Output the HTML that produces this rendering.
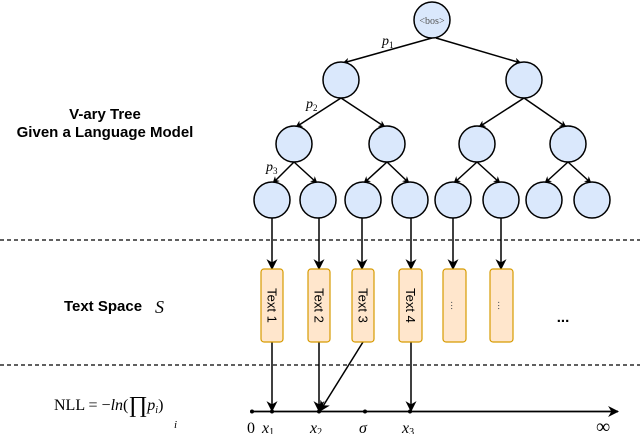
<!DOCTYPE html>
<html><head><meta charset="utf-8"><style>html,body{margin:0;padding:0;background:#fff}svg{display:block}</style></head>
<body>
<svg width="640" height="434" viewBox="0 0 640 434" xmlns="http://www.w3.org/2000/svg">
<defs>
<marker id="a" viewBox="0 0 10 10" refX="9" refY="5" markerWidth="7" markerHeight="7" orient="auto-start-reverse" markerUnits="userSpaceOnUse"><path d="M0,0 L10,5 L0,10 L3,5 z" fill="#000"/></marker>
<marker id="b" viewBox="0 0 10 10" refX="9" refY="5" markerWidth="11" markerHeight="11" orient="auto" markerUnits="userSpaceOnUse"><path d="M0,0 L10,5 L0,10 L3,5 z" fill="#000"/></marker>
</defs>
<g stroke="#000" stroke-width="1.5" fill="none" marker-end="url(#a)">
<line x1="432" y1="38" x2="343" y2="63"/>
<line x1="436" y1="38" x2="521" y2="63"/>
<line x1="341" y1="98" x2="296" y2="127"/>
<line x1="341" y1="98" x2="385" y2="127"/>
<line x1="524" y1="98" x2="479" y2="127"/>
<line x1="524" y1="98" x2="566" y2="127"/>
<line x1="294" y1="162" x2="273" y2="183"/>
<line x1="294" y1="162" x2="317" y2="183"/>
<line x1="387" y1="162" x2="364" y2="183"/>
<line x1="387" y1="162" x2="409" y2="183"/>
<line x1="477" y1="162" x2="454" y2="183"/>
<line x1="477" y1="162" x2="500" y2="183"/>
<line x1="568" y1="162" x2="545" y2="183"/>
<line x1="568" y1="162" x2="591" y2="183"/>
</g>
<g stroke="#000" stroke-width="1.5" fill="none" marker-end="url(#b)">
<line x1="272" y1="218" x2="272" y2="269"/>
<line x1="319" y1="218" x2="319" y2="269"/>
<line x1="362" y1="218" x2="362" y2="269"/>
<line x1="411" y1="218" x2="411" y2="269"/>
<line x1="453" y1="218" x2="453" y2="269"/>
<line x1="501" y1="218" x2="501" y2="269"/>
<line x1="272" y1="342" x2="272" y2="411"/>
<line x1="319" y1="342" x2="319" y2="411"/>
<line x1="363" y1="342" x2="320" y2="411"/>
<line x1="411" y1="342" x2="411" y2="411"/>
<line x1="252" y1="411.5" x2="618" y2="411.5" stroke-width="1.8"/>
</g>
<g fill="#dae8fc" stroke="#000" stroke-width="1.5">
<circle cx="432" cy="20" r="18"/>
<circle cx="341" cy="80" r="18"/><circle cx="524" cy="80" r="18"/>
<circle cx="294" cy="144" r="18"/><circle cx="387" cy="144" r="18"/><circle cx="477" cy="144" r="18"/><circle cx="568" cy="144" r="18"/>
<circle cx="272" cy="200" r="18"/><circle cx="318" cy="200" r="18"/><circle cx="363" cy="200" r="18"/><circle cx="410" cy="200" r="18"/><circle cx="453" cy="200" r="18"/><circle cx="501" cy="200" r="18"/><circle cx="544" cy="200" r="18"/><circle cx="592" cy="200" r="18"/>
</g>
<text x="432" y="24" font-family="Liberation Serif, serif" font-size="10" fill="#555" text-anchor="middle">&lt;bos&gt;</text>
<g font-family="Liberation Serif, serif" font-style="italic" font-size="14">
<text x="382" y="45">p<tspan font-size="9" dy="3" font-style="normal">1</tspan></text>
<text x="306" y="108">p<tspan font-size="9" dy="3" font-style="normal">2</tspan></text>
<text x="266" y="171">p<tspan font-size="9" dy="3" font-style="normal">3</tspan></text>
</g>
<g stroke="#000" stroke-width="1.2" stroke-dasharray="4,3">
<line x1="0" y1="240" x2="640" y2="240"/>
<line x1="0" y1="365" x2="640" y2="365"/>
</g>
<g fill="#ffe6cc" stroke="#d79b00" stroke-width="1.2">
<rect x="261" y="269" width="22" height="73" rx="3"/>
<rect x="308" y="269" width="22" height="73" rx="3"/>
<rect x="352" y="269" width="22" height="73" rx="3"/>
<rect x="399" y="269" width="23" height="73" rx="3"/>
<rect x="443" y="269" width="23" height="73" rx="3"/>
<rect x="490" y="269" width="23" height="73" rx="3"/>
</g>
<g font-family="Liberation Sans, sans-serif" font-size="13" fill="#000" text-anchor="middle">
<text transform="translate(267.5,305.5) rotate(90)">Text 1</text>
<text transform="translate(314.5,305.5) rotate(90)">Text 2</text>
<text transform="translate(358.5,305.5) rotate(90)">Text 3</text>
<text transform="translate(406,305.5) rotate(90)">Text 4</text>
<text transform="translate(451,305.5) rotate(90)" fill="#666" font-size="11">...</text>
<text transform="translate(498,305.5) rotate(90)" fill="#666" font-size="11">...</text>
</g>
<g font-family="Liberation Sans, sans-serif" font-weight="bold" font-size="15" fill="#000" text-anchor="middle">
<text x="105" y="119">V-ary Tree</text>
<text x="105" y="137">Given a Language Model</text>
<text x="103" y="311">Text Space</text>
<text x="563" y="322">...</text>
</g>
<text x="155" y="313" font-family="Liberation Serif, serif" font-style="italic" font-size="18">S</text>
<g font-family="Liberation Serif, serif" font-size="16" fill="#000">
<text x="54" y="410">NLL = −<tspan font-style="italic">ln</tspan>(<tspan font-size="23" dy="2">∏</tspan><tspan dy="-2" font-style="italic">p</tspan><tspan font-size="10" dy="3" font-style="italic">i</tspan><tspan dy="-3">)</tspan></text>
<text x="174" y="428" font-size="11" font-style="italic">i</text>
</g>
<g fill="#000">
<circle cx="252" cy="411.5" r="2"/><circle cx="272" cy="411.5" r="2"/><circle cx="319" cy="411.5" r="2"/><circle cx="365" cy="411.5" r="2"/><circle cx="410" cy="411.5" r="2"/>
</g>
<g font-family="Liberation Serif, serif" font-size="16" fill="#000">
<text x="247" y="433">0</text>
<text x="262" y="433" font-style="italic">x<tspan font-size="10" dy="2" font-style="normal">1</tspan></text>
<text x="310" y="433" font-style="italic">x<tspan font-size="10" dy="2" font-style="normal">2</tspan></text>
<text x="359" y="433" font-style="italic">σ</text>
<text x="402" y="433" font-style="italic">x<tspan font-size="10" dy="2" font-style="normal">3</tspan></text>
<text x="596" y="433" font-size="20">∞</text>
</g>
</svg>
</body></html>
